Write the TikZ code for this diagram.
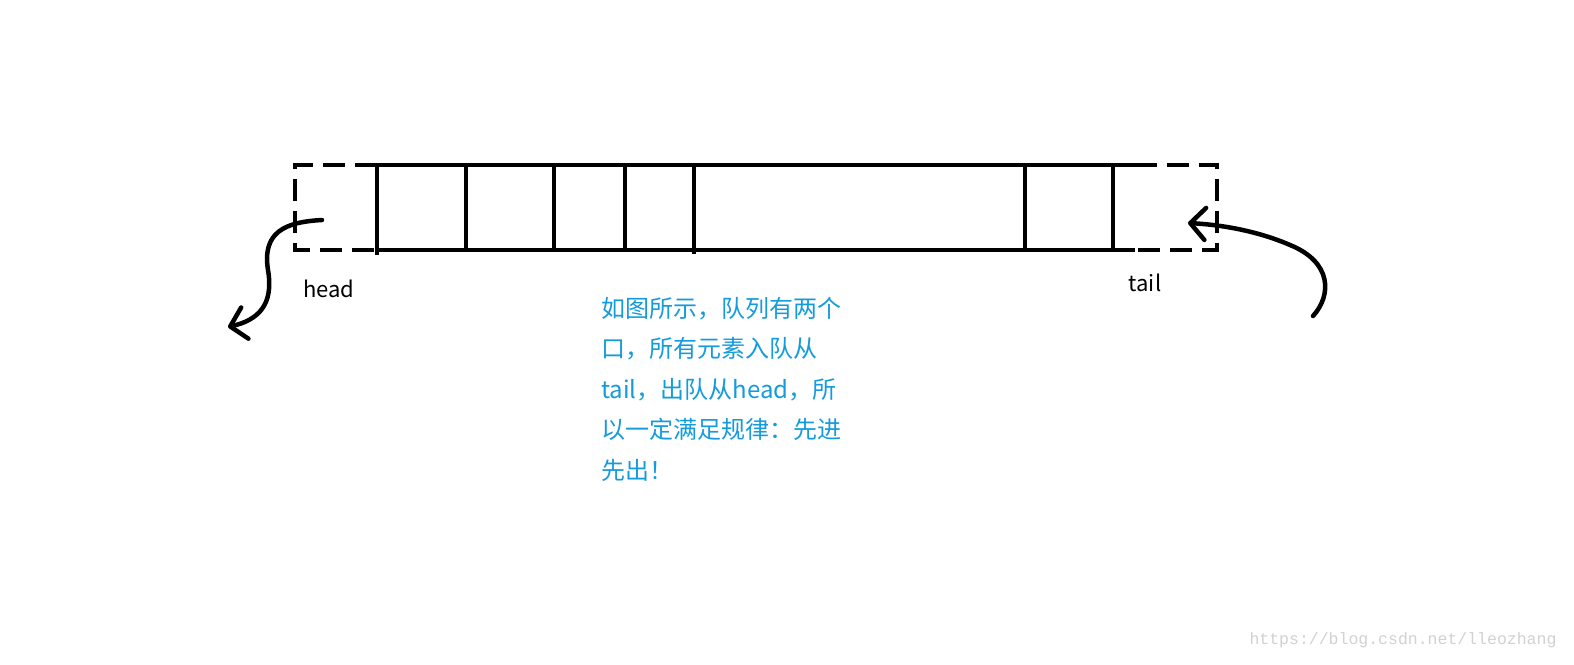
\documentclass[tikz,border=0pt]{standalone}
\usepackage{fontspec}
\setmainfont{Noto Sans CJK SC}
\newfontfamily\urlfont{Liberation Mono}
\usetikzlibrary{arrows.meta}
\definecolor{noteblue}{RGB}{20,155,220}

\begin{document}
\begin{tikzpicture}[x=1pt,y=-1pt,
	boxline/.style={line width=4.5pt},
	dashbox/.style={line width=4.5pt, dash pattern=on 22pt off 10pt},
	curvearrow/.style={line width=4.5pt, line cap=round, -{Straight Barb[length=15pt,width=32pt,round]}},
	labeltext/.style={font=\fontsize{22}{26}\selectfont, inner sep=0pt},
	notetext/.style={font=\fontsize{24}{40.5}\selectfont, text=noteblue, align=left, inner sep=0pt}]
		\useasboundingbox (0,0) rectangle (1574,664);
		
		% queue body
		\draw[boxline] (377,165) -- (1135,165);
		\draw[boxline] (377,250) -- (1135,250);
		\draw[dashbox] (377,165) -- (295,165) -- (295,250) -- (377,250);
		\draw[dashbox] (1135,165) -- (1217,165) -- (1217,250) -- (1135,250);
		
		\draw[boxline] (377,163) -- (377,255);
		\draw[boxline] (466,163) -- (466,250);
		\draw[boxline] (554,163) -- (554,250);
		\draw[boxline] (625,163) -- (625,250);
		\draw[boxline] (694,163) -- (694,254);
		\draw[boxline] (1025,163) -- (1025,250);
		\draw[boxline] (1113,163) -- (1113,250);
		
		\node[labeltext] (head) at (329,289) {head};
		\node[labeltext] (tail) at (1145,283) {tail};
		
		\coordinate (headout) at (322,220);
		\coordinate (headend) at (228,327);
		\coordinate (tailin) at (1313,316);
		\coordinate (tailend) at (1188,223);
		
		\draw[curvearrow] (headout) .. controls (285,222) and (262,232) .. (268,270) .. controls (274,305) and (258,320) .. (headend);
		\draw[curvearrow] (tailin) .. controls (1332,295) and (1332,262) .. (1290,245) .. controls (1260,232) and (1225,225) .. (tailend);
		
		\node[notetext, anchor=north west] (note) at (601,297) {如图所示，队列有两个\\口，所有元素入队从\\tail，出队从head，所\\以一定满足规律：先进\\先出！};
		
		\node[font=\urlfont\fontsize{16.5}{18}\selectfont, text=black!18] (mark) at (1403,640) {https://blog.csdn.net/lleozhang};
\end{tikzpicture}
\end{document}
